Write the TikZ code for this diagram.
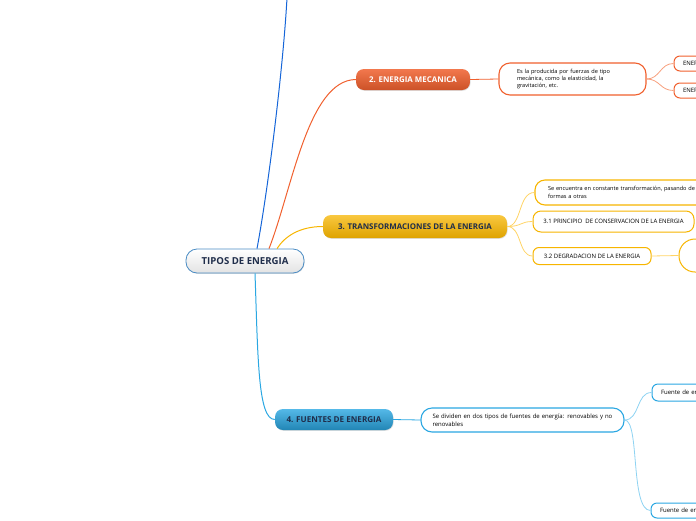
\documentclass[tikz,border=0pt]{standalone}
\usepackage{fontspec}
\setmainfont{Open Sans}
\usetikzlibrary{calc,shadows}
\definecolor{cblue}{HTML}{1565D8}
\definecolor{corange}{HTML}{F0602E}
\definecolor{corangel}{HTML}{F7A07E}
\definecolor{cyellow}{HTML}{F7B500}
\definecolor{cyellowl}{HTML}{FFD466}
\definecolor{clblue}{HTML}{2AA7E2}
\definecolor{clbluel}{HTML}{8ED3F2}
\definecolor{croot}{HTML}{4A8CC4}
\definecolor{cnavy}{HTML}{1F2D4A}
\begin{document}
\begin{tikzpicture}[x=1pt,y=-1pt,
  mainbox/.style={rounded corners=8pt, minimum height=21pt, inner sep=0pt,
    font=\bfseries\fontsize{7.9}{9}\selectfont, draw=none,
    drop shadow={opacity=0.25, shadow xshift=0.6pt, shadow yshift=-0.8pt}},
  descbox/.style={rounded corners=11pt, draw, line width=1.1pt, fill=white,
    align=left, font=\fontsize{5.6}{7.4}\selectfont, inner ysep=0pt},
  smallbox/.style={rounded corners=6pt, draw, line width=1pt, fill=white,
    font=\fontsize{6}{7}\selectfont, inner ysep=0pt},
  conn/.style={line width=1pt},
  branch/.style={line width=0.8pt}]
\useasboundingbox (0,0) rectangle (696,520);
\begin{scope}
\clip (0,0) rectangle (696,520);
% ---------- nodes ----------
\node[mainbox, rounded corners=11pt, minimum width=118pt, minimum height=24pt,
  draw=croot, line width=0.8pt, top color=white, bottom color=gray!22,
  text=cnavy, font=\bfseries\fontsize{9.6}{11}\selectfont] (root) at (245,261) {TIPOS DE ENERGIA};

\node[mainbox, minimum width=114pt, top color=corange!85!white, bottom color=corange!85!black,
  text=white] (mec) at (413,79.5) {2. ENERGIA MECANICA};
\node[descbox, draw=corange, minimum width=147pt, minimum height=32pt, text width=111pt,
  inner xsep=18pt] (mecd) at (572.5,79) {Es la producida por fuerzas de tipo\\mecánica, como la elasticidad, la\\gravitación, etc.};
\node[smallbox, draw=corange, minimum width=60pt, minimum height=15pt, text width=100pt,
  inner xsep=9pt, align=left] (ene1) at (733,63.5) {ENERGIA CINETICA};
\node[smallbox, draw=corange, minimum width=60pt, minimum height=15pt, text width=100pt,
  inner xsep=9pt, align=left] (ene2) at (733,90.5) {ENERGIA POTENCIAL};

\node[mainbox, minimum width=184pt, minimum height=23pt, top color=cyellow!75!white,
  bottom color=cyellow!90!black, text=cnavy] (trans) at (415,226.5) {3. TRANSFORMACIONES DE LA ENERGIA};
\node[descbox, draw=cyellow, minimum width=227pt, minimum height=25pt, text width=210pt,
  inner xsep=13pt, rounded corners=10pt] (t1) at (653,192.5) {Se encuentra en constante transformación, pasando de unas\\formas a otras};
\node[smallbox, draw=cyellow, minimum width=161pt, minimum height=21pt,
  rounded corners=8pt] (t2) at (613.5,221.5) {3.1 PRINCIPIO \ DE CONSERVACION DE LA ENERGIA};
\node[smallbox, draw=cyellow, minimum width=118pt, minimum height=17pt] (t3) at (592,256) {3.2 DEGRADACION DE LA ENERGIA};
\node[smallbox, draw=cyellow, minimum width=52pt, minimum height=33pt,
  rounded corners=16pt] (circ) at (705,255.5) {};

\node[mainbox, minimum width=118pt, top color=clblue!80!white, bottom color=clblue!80!black,
  text=cnavy, font=\bfseries\fontsize{8.1}{9}\selectfont] (fue) at (334,419.5) {4. FUENTES DE ENERGIA};
\node[descbox, draw=clblue, minimum width=203pt, minimum height=24pt, text width=180pt,
  inner xsep=11.5pt, font=\fontsize{6}{8}\selectfont] (fued) at (522.5,420) {Se dividen en dos tipos de fuentes de energía: renovables y no\\renovables};
\node[smallbox, draw=clblue, minimum width=88pt, minimum height=17pt, text width=110pt,
  inner xsep=9pt, align=left] (f1) at (716,392.5) {Fuente de energía renovable};
\node[smallbox, draw=clblue, minimum width=89pt, minimum height=15pt, text width=110pt,
  inner xsep=9pt, align=left] (f2) at (715,510.5) {Fuente de energía no renovable};

\coordinate (topend) at (287,-2);
% ---------- connectors ----------
\draw[conn, cblue] ($(root.north)+(12,0)$) .. controls (268,190) and (283,70) .. (topend);
\draw[conn, corange] ($(root.north)+(24,0)$) .. controls (292,190) and (308,80) .. (mec.west);
\draw[conn, cyellow] ($(root.north)+(32,0)$) .. controls (285,236) and (300,226.5) .. (trans.west);
\draw[conn, clblue] ($(root.south)+(10,0)$) .. controls (258,360) and (258,419.5) .. (fue.west);

\draw[branch, corange] (mec.east) -- (mecd.west);
\draw[branch, corangel] (mecd.east) .. controls (660,79) and (660,63.5) .. (ene1.west);
\draw[branch, corangel] (mecd.east) .. controls (660,79) and (660,90.5) .. (ene2.west);

\draw[branch, cyellowl] (trans.east) .. controls (522,226.5) and (518,192.5) .. (t1.west);
\draw[branch, cyellowl] (trans.east) .. controls (522,226.5) and (520,221.5) .. (t2.west);
\draw[branch, cyellowl] (trans.east) .. controls (522,226.5) and (518,256) .. (t3.west);
\draw[branch, cyellowl] (t3.east) -- (circ.west);

\draw[branch, clblue] (fue.east) -- (fued.west);
\draw[branch, clbluel] (fued.east) .. controls (640,420) and (636,392.5) .. (f1.west);
\draw[branch, clbluel] (fued.east) .. controls (640,420) and (630,510.5) .. (f2.west);
\end{scope}
\end{tikzpicture}
\end{document}
